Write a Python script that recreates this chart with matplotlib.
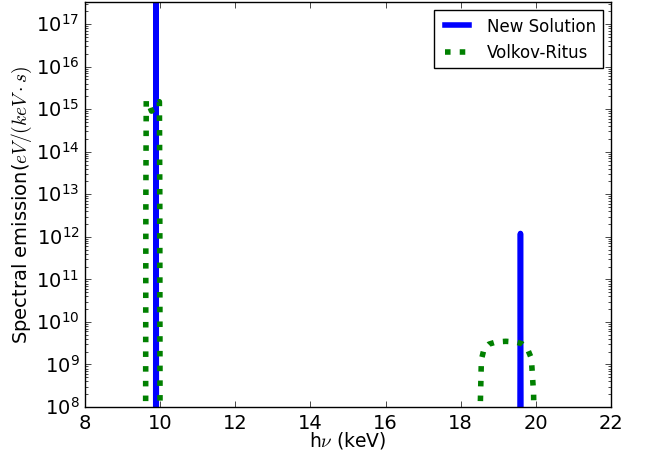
import matplotlib
matplotlib.use("Agg")
import matplotlib.pyplot as plt

plt.style.use("classic")
plt.rcParams["lines.scale_dashes"] = True
plt.rcParams["lines.dotted_pattern"] = [1, 1.65]
plt.rcParams["figure.facecolor"] = "white"
plt.rcParams["savefig.facecolor"] = "white"
plt.rcParams["xtick.labelsize"] = 14
plt.rcParams["ytick.labelsize"] = 14

# New Solution spectrum (photon energy in keV, emission in eV/(keV s))
ns_energy = [9.50, 9.88, 9.89, 9.90, 19.57, 19.59, 19.61, 21.00]
ns_emission = [1e5, 1e5, 1e19, 1e5, 1e5, 1.2e12, 1e5, 1e5]

# Volkov-Ritus spectrum
vr_energy = [9.50, 9.61, 9.62, 9.63, 9.70, 9.77, 9.85, 9.93, 9.98, 9.99, 10.00,
             18.50, 18.52, 18.55, 18.62, 18.75, 18.95, 19.20, 19.45, 19.62,
             19.77, 19.88, 19.94, 19.96, 19.98]
vr_emission = [1e5, 1e5, 1e13, 1.6e15, 1.3e15, 0.9e15, 1.1e15, 1.4e15, 1.5e15, 1e13, 1e5,
               1e5, 1e8, 1.3e9, 2.3e9, 3.0e9, 3.4e9, 3.5e9, 3.4e9, 3.1e9,
               2.4e9, 1.4e9, 2e8, 1e7, 1e5]

x_ticks = [8, 10, 12, 14, 16, 18, 20, 22]

fig = plt.figure(figsize=(6.48, 4.60), dpi=100)
ax = fig.add_axes([0.1312, 0.1130, 0.8117, 0.8804])

ax.semilogy(ns_energy, ns_emission, color="b", lw=4, label="New Solution")
ax.semilogy(vr_energy, vr_emission, color="g", lw=4, ls=":", label="Volkov-Ritus")

ax.set_xlim(8, 22)
ax.set_ylim(1e8, 3.3e17)
ax.set_xticks(x_ticks)
ax.set_xlabel(r"h$\nu$ (keV)", fontsize=13.5, labelpad=-2)
ax.set_ylabel(r"Spectral emission($eV/(keV\cdot s)$", fontsize=14, labelpad=1.5)

ax.legend(loc="upper right", fontsize=12)

fig.savefig("out.png", dpi=100)
